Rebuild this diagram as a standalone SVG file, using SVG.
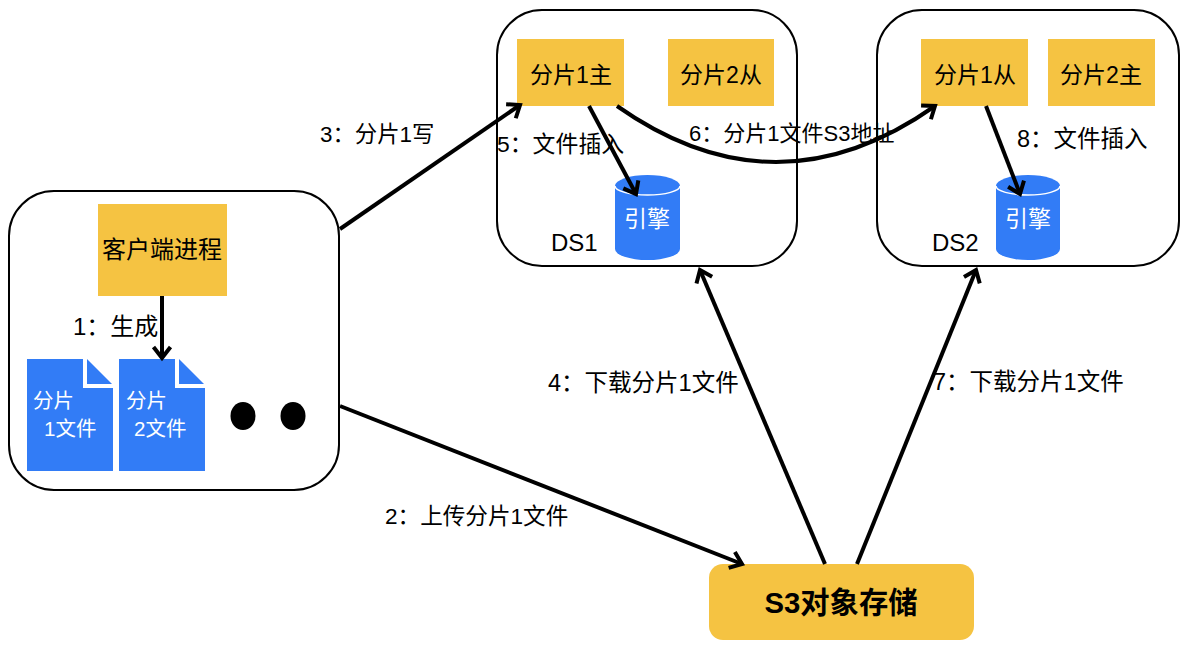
<svg xmlns="http://www.w3.org/2000/svg" width="1190" height="650" viewBox="0 0 1190 650">
<style>
text{font-family:"Liberation Sans","Noto Sans CJK SC",sans-serif;fill:#000;font-size:22px}
.box{fill:#fff;stroke:#000;stroke-width:2}
.y{fill:#f5c342}
.b{fill:#327cf6}
.c{fill:none;stroke:#000;stroke-width:4}
.m{text-anchor:middle}
.s{font-size:23px}
.d{font-size:20.500px;fill:#fff}
.e{font-size:23px;fill:#fff}
.t{font-size:24px}
.l{font-size:23.500px}
</style>
<defs>
<marker id="a" markerUnits="userSpaceOnUse" markerWidth="30" markerHeight="30" refX="20" refY="15" orient="auto"><path d="M9 6.500L20 15L9 23.500" fill="none" stroke="#000" stroke-width="4"/></marker>
</defs>
<rect width="1190" height="650" fill="#fff"/>
<g id="client"><rect class="box" x="9" y="191" width="330" height="299" rx="45"/></g>
<g id="ds1"><rect class="box" x="497" y="10" width="300" height="256" rx="45"/></g>
<g id="ds2"><rect class="box" x="877" y="10" width="302" height="256" rx="45"/></g>
<g id="proc"><rect class="y" x="98" y="204" width="129" height="92"/><text class="m t" x="162" y="258">客户端进程</text></g>
<g id="doc1"><path class="b" d="M27 359H83V388H113V471H27Z"/><path class="b" d="M87 359L112 384H87Z"/><text class="d" x="33" y="408">分片</text><text class="d" x="44" y="436">1文件</text></g>
<g id="doc2"><path class="b" d="M119 359H175V388H205V471H119Z"/><path class="b" d="M179 359L204 384H179Z"/><text class="d" x="126" y="408">分片</text><text class="d" x="134" y="436">2文件</text></g>
<g id="dots"><ellipse cx="243" cy="416" rx="12.500" ry="14"/><ellipse cx="293" cy="416" rx="12.500" ry="14"/></g>
<g id="s1m"><rect class="y" x="517" y="39" width="107" height="67"/><text class="m s" x="571" y="83">分片1主</text></g>
<g id="s2s"><rect class="y" x="668" y="39" width="106" height="67"/><text class="m s" x="721" y="83">分片2从</text></g>
<g id="s1s"><rect class="y" x="921" y="39" width="107" height="67"/><text class="m s" x="975" y="83">分片1从</text></g>
<g id="s2m"><rect class="y" x="1048" y="39" width="107" height="67"/><text class="m s" x="1101" y="83">分片2主</text></g>
<g id="eng1"><path class="b" d="M615 186A32.500 11 0 0 1 680 186V249A32.500 11 0 0 1 615 249Z"/><path d="M615 186A32.500 9 0 0 0 680 186" fill="none" stroke="#fff" stroke-width="1.500"/><text class="m e" x="647" y="227">引擎</text><text class="t" x="551" y="251">DS1</text></g>
<g id="eng2"><path class="b" d="M996 186A32 11 0 0 1 1060 186V249A32 11 0 0 1 996 249Z"/><path d="M996 186A32 9 0 0 0 1060 186" fill="none" stroke="#fff" stroke-width="1.500"/><text class="m e" x="1028" y="227">引擎</text><text class="t" x="932" y="251">DS2</text></g>
<g id="s3"><rect class="y" x="709" y="564" width="265" height="76" rx="14"/><text class="m" x="841" y="613" font-weight="bold" style="font-size:29.300px">S3对象存储</text></g>
<g id="connectors">
<path class="c" d="M162 296V358" marker-end="url(#a)"/>
<path class="c" d="M340 229L520 105" marker-end="url(#a)"/>
<path class="c" d="M340 406L742 564" marker-end="url(#a)"/>
<path class="c" d="M825 564L700 270" marker-end="url(#a)"/>
<path class="c" d="M857 564L976 270" marker-end="url(#a)"/>
<path class="c" d="M589 106L636 194" marker-end="url(#a)"/>
<path class="c" d="M986 106L1020 194" marker-end="url(#a)"/>
<path class="c" d="M617 106Q776 218 935 106" marker-end="url(#a)"/>
</g>
<g id="labels">
<text class="t" x="73" y="335">1：生成</text>
<text x="320" y="142" style="font-size:22.400px">3：分片1写</text>
<text x="497" y="152" style="font-size:22.900px">5：文件插入</text>
<text x="689" y="141">6：分片1文件S3地址</text>
<text class="l" x="1017" y="147">8：文件插入</text>
<text class="l" x="548" y="391">4：下载分片1文件</text>
<text class="l" x="933" y="390">7：下载分片1文件</text>
<text x="385" y="524" style="font-size:22.600px">2：上传分片1文件</text>
</g>
</svg>
